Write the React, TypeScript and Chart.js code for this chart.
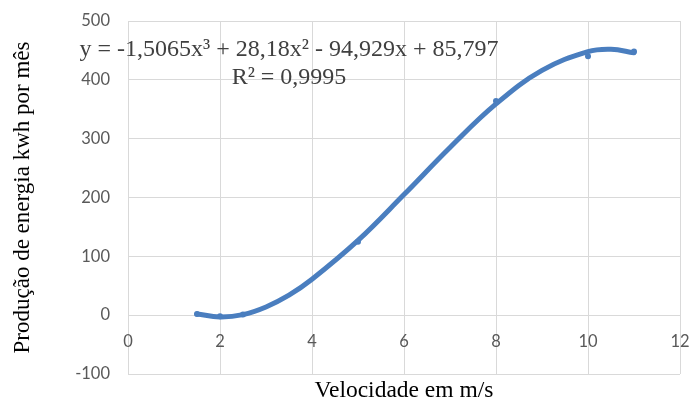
import React, { useEffect, useRef } from 'react';
import { Chart, registerables } from 'chart.js';

Chart.register(...registerables);

// Measured data points (velocity m/s, energy kWh per month)
const speeds = [1.5, 2, 2.5, 5, 8, 10, 11];
const energy = [2, -2, 1, 125, 364, 440, 448];

// Trendline
const trendSpeeds = [1.5, 2, 2.5, 3, 3.5, 4, 5, 6, 7, 8, 9, 10, 10.5, 11];
const trendEnergy = [2, -3, 1, 14, 34, 61, 127, 205, 285, 359, 416, 448, 452, 446];

const xTickValues = [0, 2, 4, 6, 8, 10, 12];
const yTickValues = [-100, 0, 100, 200, 300, 400, 500];

const equationText = 'y = -1,5065x³ + 28,18x² - 94,929x + 85,797';
const r2Text = 'R² = 0,9995';
const xTitle = 'Velocidade em m/s';
const yTitle = 'Produção de energia kwh por mês';

const BLUE = '#4A7EBF';
const GRID = '#D9D9D9';
const TICK = '#595959';
const SERIF = '"Liberation Serif", "Times New Roman", serif';
const SANS = 'Lato, "Open Sans", sans-serif';

const equationPlugin = {
  id: 'equationLabel',
  afterDatasetsDraw(chart: any) {
    const ctx = chart.ctx;
    ctx.save();
    ctx.fillStyle = '#404040';
    ctx.font = `24px ${SERIF}`;
    ctx.textAlign = 'center';
    ctx.textBaseline = 'middle';
    ctx.fillText(equationText, 289, 50);
    ctx.fillText(r2Text, 289, 78);
    ctx.restore();
  },
};

export default function App() {
  const canvasRef = useRef<HTMLCanvasElement | null>(null);

  useEffect(() => {
    if (!canvasRef.current) return;
    const chart = new Chart(canvasRef.current, {
      type: 'scatter',
      data: {
        datasets: [
          {
            label: 'Tendência',
            data: trendSpeeds.map((x, i) => ({ x, y: trendEnergy[i] })),
            showLine: true,
            borderColor: BLUE,
            backgroundColor: BLUE,
            borderWidth: 5,
            borderCapStyle: 'round',
            tension: 0.4,
            pointRadius: 0,
            xAxisID: 'x',
            yAxisID: 'y',
          },
          {
            label: 'Dados',
            data: speeds.map((x, i) => ({ x, y: energy[i] })),
            showLine: false,
            borderColor: BLUE,
            backgroundColor: BLUE,
            pointRadius: 3,
            pointBorderWidth: 0,
            xAxisID: 'x',
            yAxisID: 'y',
          },
        ],
      },
      options: {
        responsive: false,
        animation: false,
        layout: { padding: { left: 0, right: 11, top: 21, bottom: 0 } },
        plugins: {
          legend: { display: false },
          tooltip: { enabled: false },
        },
        scales: {
          x: {
            type: 'linear',
            position: 'bottom',
            min: 0,
            max: 12,
            afterBuildTicks: (scale: any) => {
              scale.ticks = xTickValues.map((v) => ({ value: v }));
            },
            ticks: { display: false, padding: 0 },
            grid: { color: GRID, lineWidth: 1, drawTicks: false },
            border: { display: false },
            title: {
              display: true,
              text: xTitle,
              color: '#000',
              font: { family: SERIF, size: 23.5, lineHeight: 0.9 },
              padding: { top: 0, bottom: 0 },
            },
            afterFit: (scale: any) => {
              scale.height = 27;
            },
          },
          x2: {
            type: 'linear',
            axis: 'x',
            position: { y: 0 },
            min: 0,
            max: 12,
            afterBuildTicks: (scale: any) => {
              scale.ticks = xTickValues.map((v) => ({ value: v }));
            },
            ticks: {
              color: TICK,
              font: { family: SANS, size: 16.5 },
              padding: 0,
              maxRotation: 0,
            },
            grid: {
              display: true,
              drawOnChartArea: false,
              drawTicks: true,
              tickLength: 17,
              tickColor: 'rgba(0,0,0,0)',
            },
            border: { display: false },
          },
          y: {
            type: 'linear',
            position: 'left',
            min: -100,
            max: 500,
            afterBuildTicks: (scale: any) => {
              scale.ticks = yTickValues.map((v) => ({ value: v }));
            },
            ticks: {
              color: TICK,
              font: { family: SANS, size: 16.5 },
              padding: 0,
            },
            grid: {
              color: GRID,
              lineWidth: 1,
              drawTicks: true,
              tickLength: 18,
              tickColor: 'rgba(0,0,0,0)',
            },
            border: { display: false },
            title: {
              display: true,
              text: yTitle,
              color: '#000',
              font: { family: SERIF, size: 23, lineHeight: 1.2 },
              padding: { top: 9, bottom: 0 },
            },
            afterFit: (scale: any) => {
              scale.width = 128;
            },
          },
        },
      },
      plugins: [equationPlugin],
    } as any);
    return () => chart.destroy();
  }, []);

  return (
    <div style={{ position: 'fixed', left: 0, top: 0, width: 691, height: 401, background: '#fff' }}>
      <canvas ref={canvasRef} width={691} height={401} />
    </div>
  );
}
